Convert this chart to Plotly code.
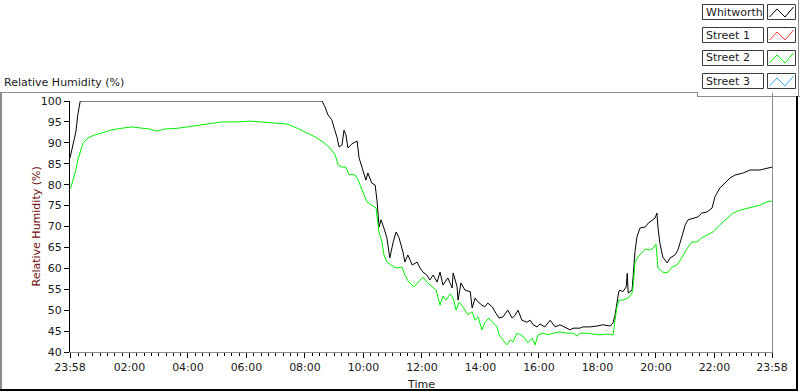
import pandas as pd
import plotly.graph_objects as go

# ---------------- data ----------------
START = "2000-01-01 23:58"

whitworth_min = [0, 6, 12, 16, 21, 517, 523, 529, 537, 542, 548, 552, 558, 562, 566,
                 570, 578, 585, 589, 593, 601, 607, 611, 619, 626, 630, 634, 638, 644, 650,
                 656, 663, 669, 675, 683, 687, 693, 702, 712, 718, 724, 732, 738, 745, 753,
                 759, 765, 775, 784, 786, 794, 796, 802, 810, 821, 825, 831, 837, 845, 851,
                 857, 866, 872, 880, 888, 898, 907, 913, 919, 927, 937, 944, 950, 958, 964,
                 974, 985, 995, 1005, 1015, 1026, 1032, 1046, 1052, 1067, 1081, 1093, 1108, 1114, 1118,
                 1122, 1126, 1128, 1134, 1141, 1143, 1145, 1153, 1159, 1163, 1169, 1180, 1186, 1194, 1200,
                 1204, 1206, 1210, 1216, 1225, 1231, 1241, 1247, 1255, 1262, 1268, 1278, 1288, 1296, 1307,
                 1317, 1323, 1333, 1344, 1354, 1364, 1381, 1395, 1415, 1440]
whitworth_rh = [86.4, 89.7, 92.6, 96.7, 100, 100, 98.6, 96.7, 95.5, 93.5, 91.2, 89.0, 89.5, 93.0, 91.9,
                88.8, 89.7, 90.2, 90.4, 86.4, 83.5, 81.1, 82.8, 80.4, 79.9, 75.9, 69.9, 71.6, 69.6, 67.3,
                62.5, 66.3, 68.7, 67.3, 63.9, 61.5, 63.2, 60.8, 61.5, 60.1, 59.1, 58.4, 57.2, 58.4, 56.7,
                59.1, 56.0, 57.7, 55.3, 58.9, 55.6, 52.4, 56.5, 54.8, 54.4, 50.5, 52.9, 52.0, 51.2, 50.8,
                51.7, 50.8, 49.6, 48.1, 48.4, 50.0, 48.1, 48.8, 50.0, 47.6, 47.1, 47.6, 46.5, 46.0, 46.7,
                46.0, 47.6, 46.0, 46.5, 46.0, 45.3, 45.7, 45.7, 46.0, 46.0, 46.2, 46.5, 46.2, 47.0, 48.8,
                51.7, 54.6, 54.8, 54.4, 55.6, 58.8, 54.1, 54.8, 64.0, 67.5, 69.6, 69.9, 70.8, 71.6, 72.0,
                73.2, 69.9, 66.0, 62.7, 61.3, 62.5, 63.2, 64.4, 67.5, 70.4, 71.6, 72.0, 72.3, 73.2, 73.5,
                74.4, 77.1, 79.2, 80.4, 81.6, 82.3, 82.8, 83.5, 83.5, 84.2]

street2_min = [0, 2, 6, 12, 16, 21, 27, 37, 51, 66, 86, 107, 127, 148, 164, 178, 195, 222, 250, 277,
               312, 345, 369, 390, 416, 445, 466, 486, 503, 519, 533, 544, 550, 558, 566, 572, 585, 591, 597, 603,
               609, 619, 628, 630, 634, 640, 644, 650, 658, 665, 671, 681, 687, 695, 706, 714, 724, 732, 743, 751,
               759, 765, 771, 780, 786, 792, 798, 806, 816, 825, 831, 837, 845, 851, 859, 868, 876, 880, 888, 896,
               903, 909, 917, 925, 933, 939, 948, 954, 960, 970, 981, 991, 1005, 1019, 1032, 1040, 1046, 1061, 1073, 1087,
               1102, 1114, 1118, 1122, 1126, 1134, 1145, 1153, 1155, 1159, 1165, 1173, 1180, 1190, 1196, 1202, 1204, 1206, 1216, 1225,
               1235, 1245, 1255, 1266, 1276, 1286, 1296, 1307, 1319, 1333, 1348, 1360, 1374, 1389, 1401, 1415, 1430, 1440]
street2_rh = [79.0, 79.4, 81.1, 83.5, 85.9, 87.8, 90.0, 91.2, 91.9, 92.4, 93.1, 93.5, 93.8, 93.5, 93.3, 92.8, 93.3, 93.5, 94.0, 94.5,
              95.0, 95.0, 95.2, 95.0, 94.7, 94.5, 93.5, 92.4, 91.4, 90.2, 88.8, 87.1, 84.7, 84.2, 84.2, 82.5, 82.3, 81.1, 79.2, 77.5,
              75.9, 75.1, 74.4, 72.0, 68.7, 66.3, 63.2, 61.5, 60.8, 60.3, 60.1, 60.3, 58.4, 56.7, 55.6, 56.7, 57.9, 56.7, 55.6, 54.8,
              51.2, 53.4, 52.4, 53.9, 52.9, 50.0, 51.9, 50.8, 48.9, 49.6, 47.6, 48.4, 45.3, 47.0, 48.1, 47.0, 46.0, 44.1, 42.9, 41.7,
              42.9, 42.4, 44.5, 44.1, 43.3, 42.2, 43.3, 41.7, 44.1, 44.5, 44.1, 44.5, 44.8, 44.5, 44.5, 43.8, 44.5, 44.5, 44.3, 44.1,
              44.3, 44.1, 47.6, 50.8, 52.4, 52.4, 52.9, 54.1, 55.6, 61.3, 62.7, 63.7, 64.6, 64.4, 64.8, 65.8, 62.0, 60.1, 59.1, 58.9,
              60.3, 60.8, 62.5, 64.8, 66.3, 66.3, 67.3, 68.0, 68.7, 70.4, 72.0, 73.2, 73.9, 74.4, 74.7, 75.1, 75.9, 76.1]

street1_min, street1_rh = [], []
street3_min, street3_rh = [], []

series_names = ["Whitworth", "Street 1", "Street 2", "Street 3"]
series_colors = ["#000000", "#ff3a3a", "#00f000", "#3aaaf0"]

x_tick_times = ["2000-01-01 23:58", "2000-01-02 02:00", "2000-01-02 04:00", "2000-01-02 06:00",
                "2000-01-02 08:00", "2000-01-02 10:00", "2000-01-02 12:00", "2000-01-02 14:00",
                "2000-01-02 16:00", "2000-01-02 18:00", "2000-01-02 20:00", "2000-01-02 22:00",
                "2000-01-02 23:58"]
x_tick_labels = ["23:58", "02:00", "04:00", "06:00", "08:00", "10:00", "12:00", "14:00",
                 "16:00", "18:00", "20:00", "22:00", "23:58"]
y_ticks = [40, 45, 50, 55, 60, 65, 70, 75, 80, 85, 90, 95, 100]

# ---------------- layout geometry ----------------
W, H = 800, 392
L, R, T, B = 70, 772, 101, 352
FONT = "DejaVu Sans"


def px(x):
    return (x - L) / (R - L)


def py(y):
    return (B - y) / (B - T)


def to_time(mins):
    return pd.to_datetime(START) + pd.to_timedelta(mins, unit="m")


fig = go.Figure()
data = [(whitworth_min, whitworth_rh), (street1_min, street1_rh),
        (street2_min, street2_rh), (street3_min, street3_rh)]
for (m, v), name, col in zip(data, series_names, series_colors):
    fig.add_trace(go.Scatter(x=to_time(m), y=v, mode="lines", name=name,
                             line=dict(color=col, width=1), showlegend=False,
                             cliponaxis=False))

shapes = []
anns = []
gray = "#8c8c8c"
dark = "#1a1a1a"


def bar(x0, y0, x1, y1, color):
    """solid 1px-wide rectangle (pixel coords, inclusive edges)"""
    shapes.append(dict(type="rect", xref="paper", yref="paper",
                       x0=px(x0), y0=py(y0), x1=px(x1), y1=py(y1),
                       line=dict(width=0), fillcolor=color, layer="above"))


# panel frame
bar(0, 92, 698, 93, gray)
bar(697, 92, 698, 97, gray)
bar(697, 96, 800, 97, gray)
bar(798, 0, 799, 97, gray)
bar(0, 92, 2, 391, gray)
bar(0, 389, 798, 391, "#000000")
bar(796, 96, 798, 391, "#000000")
# right edge of plot area
bar(772, 93, 773, 353, gray)

# custom legend
tops = [4.5, 27.5, 50.5, 73.5]
for top, name, col in zip(tops, series_names, series_colors):
    shapes.append(dict(type="rect", xref="paper", yref="paper",
                       x0=px(702.5), x1=px(763.5), y0=py(top), y1=py(top + 15),
                       line=dict(color="#3a3a3a", width=1), fillcolor="white"))
    shapes.append(dict(type="rect", xref="paper", yref="paper",
                       x0=px(767.5), x1=px(795.5), y0=py(top), y1=py(top + 15),
                       line=dict(color="#3a3a3a", width=1), fillcolor="white"))
    pts = [(769.5, top + 12.5), (777, top + 4.5), (785, top + 12.5), (793.5, top + 2.5)]
    path = "M " + " L ".join(f"{px(a)},{py(b)}" for a, b in pts)
    shapes.append(dict(type="path", xref="paper", yref="paper", path=path,
                       line=dict(color=col, width=1)))
    anns.append(dict(text=name, xref="paper", yref="paper", x=px(704), y=py(top + 7.5),
                     xanchor="left", yanchor="middle", showarrow=False,
                     font=dict(family=FONT, size=11, color=dark)))

# titles
anns.append(dict(text="Relative Humidity (%)", xref="paper", yref="paper",
                 x=px(2), y=py(82), xanchor="left", yanchor="middle", showarrow=False,
                 font=dict(family=FONT, size=11, color=dark)))
anns.append(dict(text="Relative Humidity (%)", xref="paper", yref="paper",
                 x=px(36), y=0.5, xanchor="center", yanchor="middle", textangle=-90,
                 showarrow=False, font=dict(family=FONT, size=11, color="#6e0c0c")))
anns.append(dict(text="Time", xref="paper", yref="paper",
                 x=0.5, y=py(384), xanchor="center", yanchor="middle",
                 showarrow=False, font=dict(family=FONT, size=11, color=dark)))

fig.update_layout(
    width=W, height=H,
    margin=dict(l=L, r=W - R, t=T, b=H - B, pad=0),
    paper_bgcolor="white", plot_bgcolor="white",
    shapes=shapes, annotations=anns,
    font=dict(family=FONT, size=11, color=dark),
    showlegend=False,
    xaxis=dict(type="date", range=[to_time(0), to_time(1440)],
               tickvals=pd.to_datetime(x_tick_times), ticktext=x_tick_labels,
               ticks="outside", ticklen=5, tickwidth=1, tickcolor="#000000",
               showline=True, linecolor=gray, linewidth=1, showgrid=False,
               zeroline=False, tickfont=dict(family=FONT, size=11, color=dark),
               minor=dict(ticks="outside", ticklen=3, tickcolor="#000000", tickwidth=1,
                          dtick=15 * 60 * 1000, tick0="2000-01-02 00:00", showgrid=False)),
    yaxis=dict(range=[40, 100], tickvals=y_ticks,
               ticks="outside", ticklen=5, tickwidth=1, tickcolor="#000000",
               showline=True, linecolor="#000000", linewidth=1, showgrid=False,
               zeroline=False, tickfont=dict(family=FONT, size=11, color=dark)),
)

fig.write_html("out.html", config={"displayModeBar": False},
               post_script="document.body.style.margin='0px';document.body.style.padding='0px';")
